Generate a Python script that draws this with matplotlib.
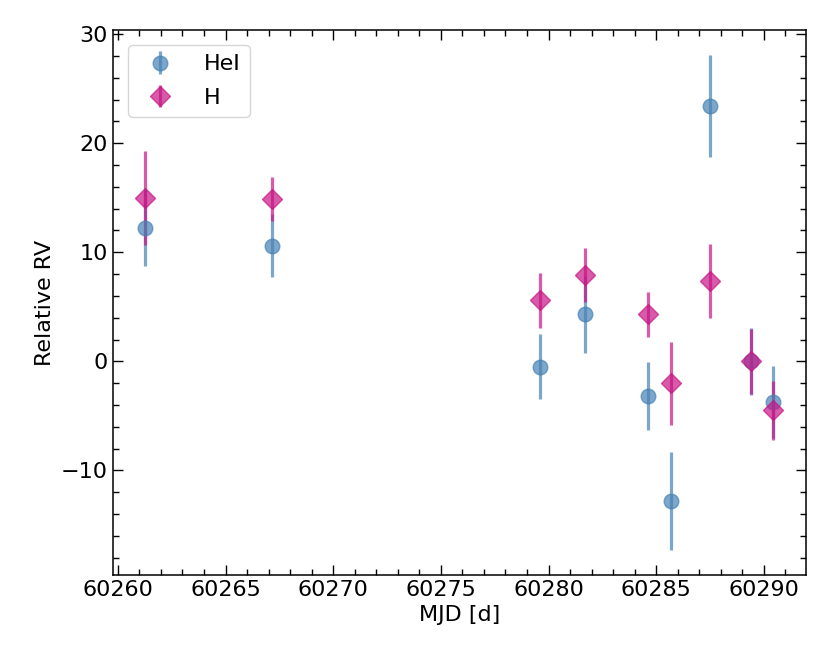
import matplotlib
matplotlib.use("Agg")
import matplotlib.pyplot as plt
from matplotlib.ticker import MultipleLocator

mjd_he = [60261.25, 60267.15, 60279.6, 60281.7, 60284.6, 60285.7, 60287.5, 60289.4, 60290.4]
rv_he = [12.2, 10.6, -0.5, 4.3, -3.2, -12.8, 23.4, 0.0, -3.7]
err_he = [3.5, 2.9, 3.0, 3.5, 3.1, 4.5, 4.7, 3.1, 3.3]

mjd_h = [60261.25, 60267.15, 60279.6, 60281.7, 60284.6, 60285.7, 60287.5, 60289.4, 60290.4]
rv_h = [15.0, 14.9, 5.6, 7.9, 4.3, -2.0, 7.4, 0.0, -4.5]
err_h = [4.3, 2.0, 2.5, 2.5, 2.1, 3.8, 3.4, 3.0, 2.7]

plt.rcParams['font.size'] = 16

fig = plt.figure(figsize=(8.3, 6.64), dpi=100)
ax = fig.add_axes([0.136, 0.134, 0.835, 0.821])

ax.errorbar(mjd_he, rv_he, yerr=err_he, fmt='o', color='steelblue', alpha=0.7,
            markersize=10.5, elinewidth=2.3, label='HeI')
ax.errorbar(mjd_h, rv_h, yerr=err_h, fmt='D', color='mediumvioletred', alpha=0.7,
            markersize=10.5, elinewidth=2.3, label='H')

ax.set_xlim(60259.77, 60291.95)
ax.set_ylim(-19.6, 30.4)
ax.xaxis.set_major_locator(MultipleLocator(5))
ax.xaxis.set_minor_locator(MultipleLocator(1))
ax.yaxis.set_major_locator(MultipleLocator(10))
ax.yaxis.set_minor_locator(MultipleLocator(2))
ax.tick_params(which='both', direction='in', top=True, right=True, width=1.0)
ax.tick_params(which='major', length=7)
ax.tick_params(which='minor', length=4)
ax.ticklabel_format(useOffset=False, axis='x')
for s in ax.spines.values():
    s.set_linewidth(1.1)

ax.set_xlabel('MJD [d]')
ax.set_ylabel('Relative RV')
ax.legend(loc='upper left', labelspacing=0.6, handletextpad=1.0, borderaxespad=0.7)

fig.savefig('out.png', dpi=100)
